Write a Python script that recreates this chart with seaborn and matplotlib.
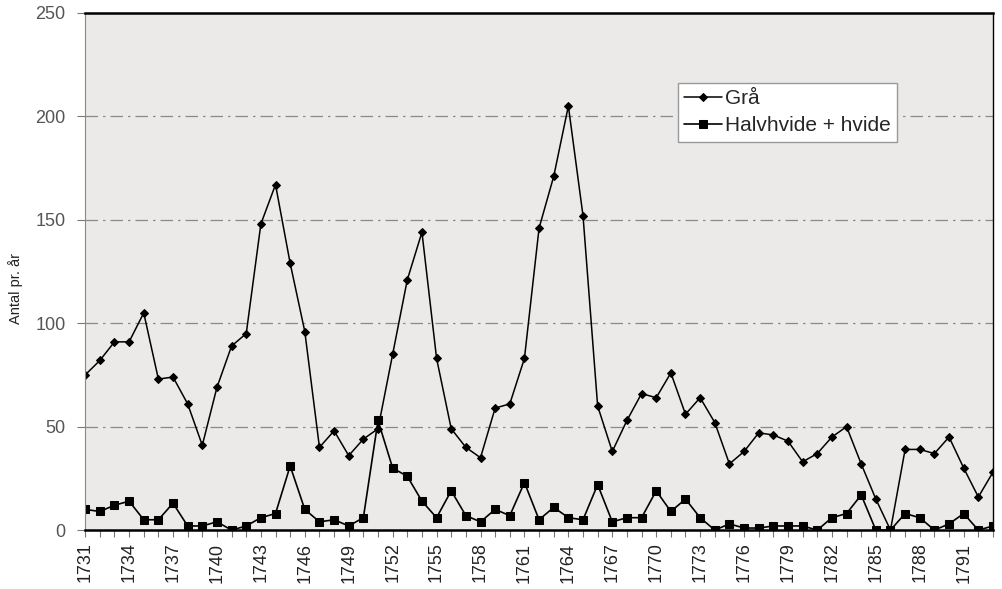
import numpy as np
import pandas as pd
import matplotlib
matplotlib.use("Agg")
import matplotlib.pyplot as plt
import seaborn as sns

# years 1731-1793, one value per year
years = list(range(1731, 1794))

graa = [75, 82, 91, 91, 105, 73, 74, 61, 41, 69,
        89, 95, 148, 167, 129, 96, 40, 48, 36, 44,
        49, 85, 121, 144, 83, 49, 40, 35, 59, 61,
        83, 146, 171, 205, 152, 60, 38, 53, 66, 64,
        76, 56, 64, 52, 32, 38, 47, 46, 43, 33,
        37, 45, 50, 32, 15, 0, 39, 39, 37, 45,
        30, 16, 28]

halvhvide = [10, 9, 12, 14, 5, 5, 13, 2, 2, 4,
             0, 2, 6, 8, 31, 10, 4, 5, 2, 6,
             53, 30, 26, 14, 6, 19, 7, 4, 10, 7,
             23, 5, 11, 6, 5, 22, 4, 6, 6, 19,
             9, 15, 6, 0, 3, 1, 1, 2, 2, 2,
             0, 6, 8, 17, 0, 0, 8, 6, 0, 3,
             8, 0, 2]

series_names = ["Grå", "Halvhvide + hvide"]
y_ticks = [0, 50, 100, 150, 200, 250]

df = pd.concat([
    pd.DataFrame({"aar": years, "antal": graa, "serie": series_names[0]}),
    pd.DataFrame({"aar": years, "antal": halvhvide, "serie": series_names[1]}),
])

sns.set_style("white")
plt.rcParams["font.family"] = ["Liberation Sans", "DejaVu Sans"]

fig = plt.figure(figsize=(10.02, 5.89), dpi=100)
ax = fig.add_axes([0.085, 0.10, 0.906, 0.878])
ax.set_facecolor("#ebeae8")

sns.lineplot(data=df[df.serie == series_names[0]], x="aar", y="antal",
             color="black", marker="D", markersize=4.5, linewidth=1.1,
             markeredgecolor="black", ax=ax, label=series_names[0])
sns.lineplot(data=df[df.serie == series_names[1]], x="aar", y="antal",
             color="black", marker="s", markersize=5.5, linewidth=1.2,
             markeredgecolor="black", ax=ax, label=series_names[1])

# grid lines (dash-dot like the original)
for v in y_ticks[1:-1]:
    ax.axhline(v, color="#8a8a8a", linewidth=0.9, linestyle="-.", dashes=(10, 4, 2, 4), zorder=0)

ax.set_xlim(1731, 1793)
ax.set_ylim(0, 250)
ax.set_yticks(y_ticks)
ax.set_yticklabels([str(v) for v in y_ticks], color="#555555", fontsize=13)
ax.set_xticks(list(range(1731, 1793, 3)))
ax.set_xticklabels([str(y) for y in range(1731, 1793, 3)], rotation=90, fontsize=13, color="#222222")
ax.set_xticks(years, minor=True)
ax.tick_params(axis="x", which="both", direction="out", length=5, width=0.8, color="#777777", bottom=True, pad=4)
ax.tick_params(axis="y", direction="out", length=6, width=0.8, color="#777777", left=True, pad=8)

ax.set_xlabel("")
ax.set_ylabel("Antal pr. år", fontsize=10.5, color="#222222")
ax.yaxis.set_label_coords(-0.068, 0.468)

for side in ["top", "right", "bottom"]:
    ax.spines[side].set_visible(True)
    ax.spines[side].set_color("black")
ax.spines["top"].set_linewidth(1.8)
ax.spines["bottom"].set_linewidth(1.8)
ax.spines["right"].set_linewidth(1.0)
ax.spines["left"].set_color("#888888")
ax.spines["left"].set_linewidth(0.8)

leg = ax.legend(loc="upper left", bbox_to_anchor=(0.653, 0.865), borderaxespad=0,
                frameon=True, fancybox=False, fontsize=15, handlelength=1.8,
                handletextpad=0.15, borderpad=0.3, labelspacing=0.4)
leg.get_frame().set_facecolor("white")
leg.get_frame().set_edgecolor("#999999")
leg.get_frame().set_alpha(1)

fig.savefig("out.png", dpi=100)
